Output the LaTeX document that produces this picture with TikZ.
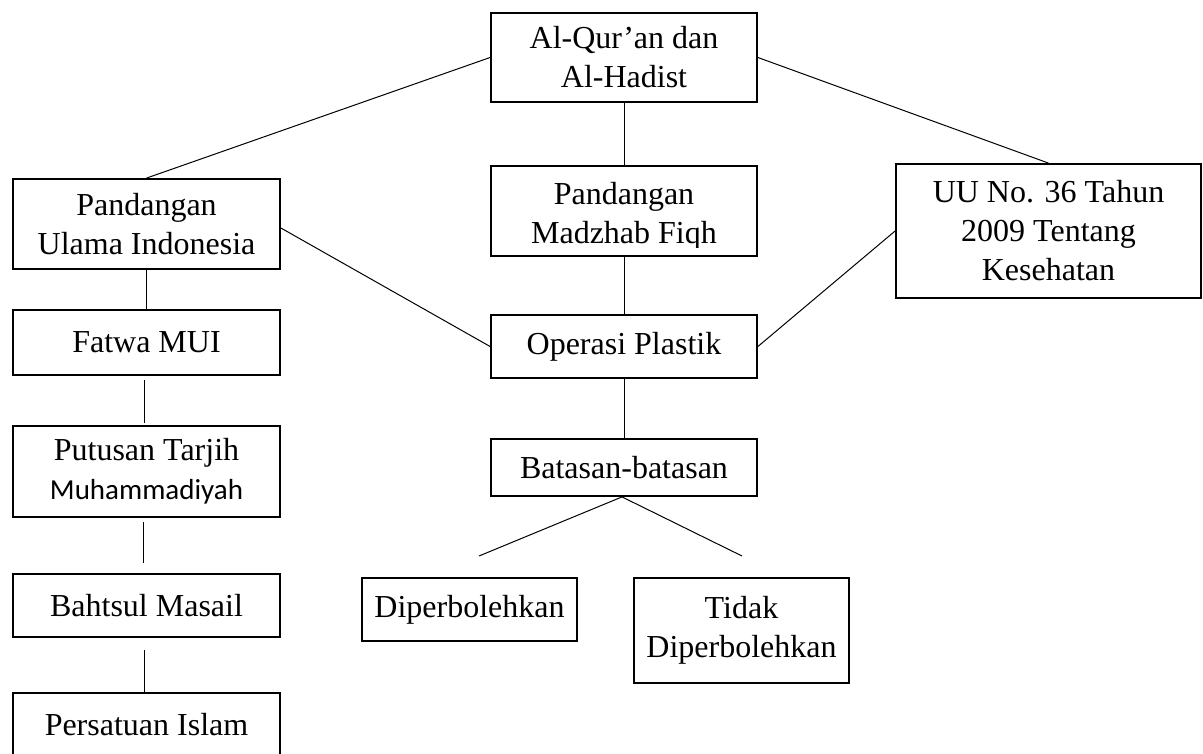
\documentclass[tikz,border=0pt]{standalone}
\usepackage{fontspec}
\setmainfont{Liberation Serif}
\newfontfamily\calibrifont{Carlito}
\begin{document}
\begin{tikzpicture}[x=1pt,y=-1pt,
  box/.style={draw=black, line width=1.8pt, fill=white, align=center, inner sep=0pt,
    font=\fontsize{32}{39}\selectfont},
  txt/.style={align=center, inner sep=0pt, font=\fontsize{32}{39}\selectfont},
  link/.style={draw=black, line width=1pt}]
\clip (0,0) rectangle (1203,753);
\fill[white] (0,0) rectangle (1203,753);

% boxes
\node[box, minimum width=266pt, minimum height=89pt] (quran) at (624,57.5) {Al-Qur’an dan\\Al-Hadist};
\node[box, minimum width=267pt, minimum height=90pt] (ulama) at (146.5,224) {Pandangan\\Ulama Indonesia};
\node[box, minimum width=266pt, minimum height=90pt] (madzhab) at (624,211) {};
\begin{scope}
  \clip (492,167) rectangle (756,247);
  \node[txt, yshift=-5pt] (madzhabtext) at (madzhab.center) {Pandangan\\Madzhab Fiqh};
\end{scope}
\node[box, minimum width=305pt, minimum height=134pt] (uu) at (1048.5,231) {UU No. 36 Tahun\\2009 Tentang\\Kesehatan};
\node[box, minimum width=267pt, minimum height=65pt] (fatwa) at (146.5,342.5) {Fatwa MUI};
\node[box, minimum width=267pt, minimum height=91pt] (putusan) at (146.5,471.5) {Putusan Tarjih\\{\calibrifont\fontsize{29}{39}\selectfont Muhammadiyah}};
\node[box, minimum width=267pt, minimum height=63pt] (bahtsul) at (146.5,605.5) {Bahtsul Masail};
\node[box, minimum width=267pt, minimum height=63pt] (persatuan) at (146.5,724.5) {Persatuan Islam};
\node[box, minimum width=266pt, minimum height=63pt] (operasi) at (624,346.5) {Operasi Plastik};
\node[box, minimum width=266pt, minimum height=57pt] (batasan) at (624,467.5) {Batasan-batasan};
\node[box, minimum width=215pt, minimum height=63pt] (boleh) at (469.5,609.5) {Diperbolehkan};
\node[box, minimum width=215pt, minimum height=105pt] (tidak) at (741.5,630.5) {Tidak\\Diperbolehkan};

% free ends
\coordinate (leftend) at (479,556);
\coordinate (rightend) at (742,556);

% connectors
\draw[link] (quran.west) -- (ulama.north);
\draw[link] (quran.east) -- (uu.north);
\draw[link] (quran.south) -- (madzhab.north);
\draw[link] (madzhab.south) -- (operasi.north);
\draw[link] ([yshift=-4pt]ulama.east) -- (operasi.west);
\draw[link] (uu.west) -- (operasi.east);
\draw[link] (ulama.south) -- (fatwa.north);
\draw[link] ([xshift=-2pt,yshift=-4pt]fatwa.south) -- ([xshift=-2pt,yshift=2pt]putusan.north);
\draw[link] ([xshift=-3pt,yshift=-4pt]putusan.south) -- ([xshift=-3pt,yshift=10pt]bahtsul.north);
\draw[link] ([xshift=-2pt,yshift=-12pt]bahtsul.south) -- ([xshift=-2pt]persatuan.north);
\draw[link] (operasi.south) -- (batasan.north);
\draw[link] ([xshift=-2pt]batasan.south) -- (leftend);
\draw[link] ([xshift=-2pt]batasan.south) -- (rightend);
\end{tikzpicture}
\end{document}
